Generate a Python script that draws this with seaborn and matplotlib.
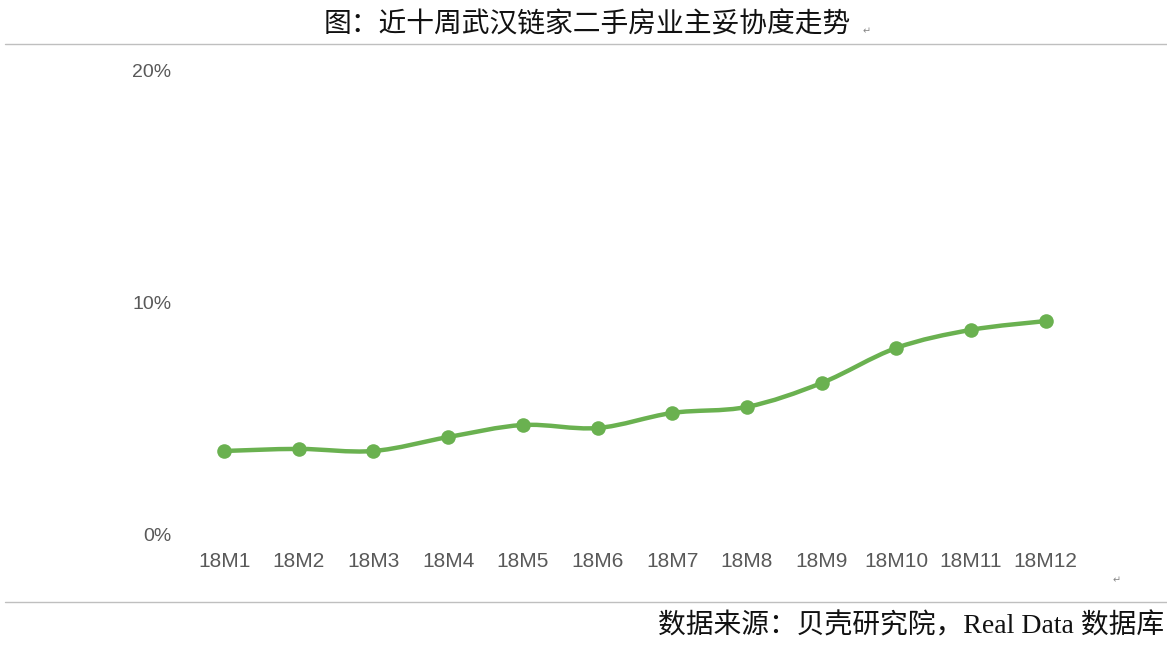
import numpy as np
import pandas as pd
import matplotlib
matplotlib.use("Agg")
import matplotlib.pyplot as plt
from matplotlib.path import Path
from matplotlib.patches import PathPatch
import seaborn as sns

months = ["18M1", "18M2", "18M3", "18M4", "18M5", "18M6",
          "18M7", "18M8", "18M9", "18M10", "18M11", "18M12"]
compromise = [0.0362, 0.0371, 0.0362, 0.0422, 0.0474, 0.0461,
              0.0526, 0.0552, 0.0655, 0.0806, 0.0884, 0.0922]
y_ticks = [0.0, 0.10, 0.20]
y_tick_labels = ["0%", "10%", "20%"]

title = "图：近十周武汉链家二手房业主妥协度走势"
source = "数据来源：贝壳研究院，Real Data 数据库"

sns.set_theme(style="white")
plt.rcParams['font.family'] = ['Liberation Sans', 'DejaVu Sans']
plt.rcParams['axes.unicode_minus'] = False

df = pd.DataFrame({"month": months, "value": compromise})
df["pos"] = np.arange(len(df))

green = "#6ab150"
fig = plt.figure(figsize=(11.67, 6.56), dpi=100)
ax = fig.add_axes([0.160, 0.1845, 0.768, 0.7073])

# smoothed curve (Excel style) drawn as cubic Bezier segments through the points
pts = df[["pos", "value"]].to_numpy()
verts = [tuple(pts[0])]
codes = [Path.MOVETO]
n = len(pts)
for i in range(n - 1):
    p0 = pts[max(i - 1, 0)]
    p1 = pts[i]
    p2 = pts[i + 1]
    p3 = pts[min(i + 2, n - 1)]
    c1 = p1 + (p2 - p0) / 6
    c2 = p2 - (p3 - p1) / 6
    verts += [tuple(c1), tuple(c2), tuple(p2)]
    codes += [Path.CURVE4] * 3
ax.add_patch(PathPatch(Path(verts, codes), fill=False, edgecolor=green,
                       lw=3.2, capstyle="round", zorder=2))

sns.scatterplot(data=df, x="pos", y="value", ax=ax, color=green, s=110,
                edgecolor=green, linewidth=0, zorder=3, legend=False)

ax.set_xlim(-0.5, len(months) - 0.5)
ax.set_ylim(0, 0.20)
ax.set_xticks(df["pos"])
ax.set_xticklabels(months, fontsize=15, color="#595959")
ax.set_yticks(y_ticks)
ax.set_yticklabels(y_tick_labels, fontsize=14, color="#595959")
ax.tick_params(axis="x", length=0, pad=12)
ax.tick_params(axis="y", length=0, pad=11)
ax.set_xlabel("")
ax.set_ylabel("")
for s in ax.spines.values():
    s.set_visible(False)
ax.patch.set_alpha(0)

# top and bottom rules
fig.add_artist(plt.Line2D([0.004, 1.0], [1 - 44 / 656] * 2, color="#bfbfbf", lw=1))
fig.add_artist(plt.Line2D([0.004, 1.0], [1 - 602 / 656] * 2, color="#bfbfbf", lw=1))

fig.text(587 / 1167, 1 - 25 / 656, title, ha="center", va="center",
         fontsize=20, color="#111111", family=['Noto Sans CJK SC', 'DejaVu Sans'])
fig.text(867 / 1167, 1 - 31 / 656, "↵", ha="center", va="center",
         fontsize=7, color="#888888", family=['DejaVu Sans'])
fig.text(1164 / 1167, 1 - 626 / 656, source, ha="right", va="center",
         fontsize=20, color="#111111",
         family=['Liberation Serif', 'Noto Sans CJK SC', 'DejaVu Sans'])
fig.text(1117 / 1167, 1 - 580 / 656, "↵", ha="center", va="center",
         fontsize=7, color="#888888", family=['DejaVu Sans'])

fig.savefig("out.png", dpi=100)
